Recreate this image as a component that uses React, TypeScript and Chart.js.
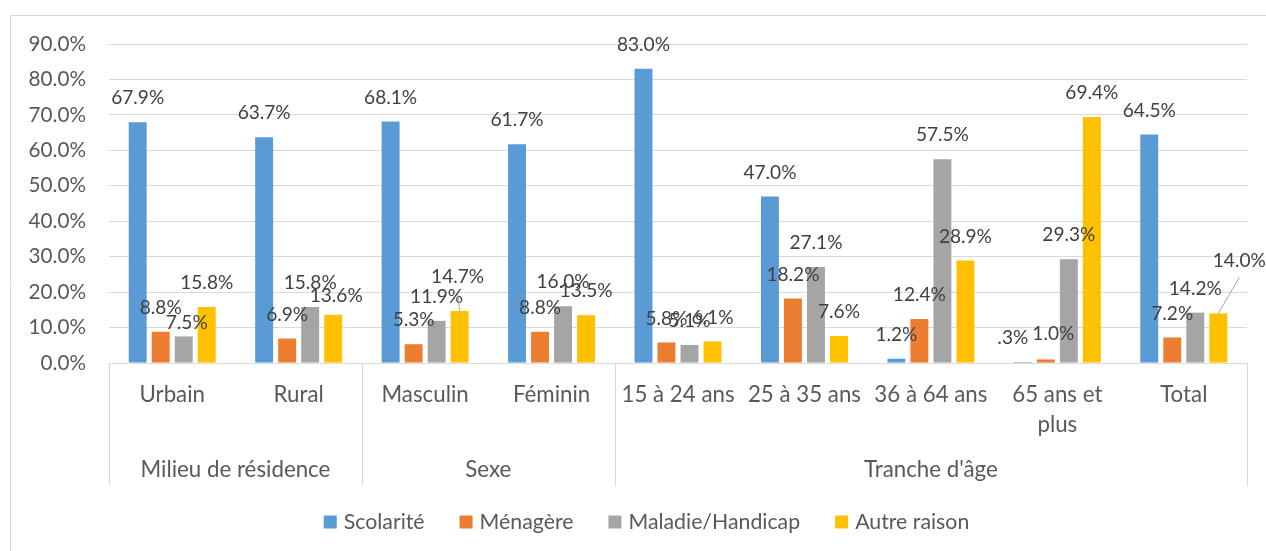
import React, { useEffect, useRef } from "react";
import { Chart, registerables } from "chart.js";

Chart.register(...registerables);

const categories = ["Urbain", "Rural", "Masculin", "Féminin", "15 à 24 ans", "25 à 35 ans", "36 à 64 ans", "65 ans et plus", "Total"];
const groupNames = ["Milieu de résidence", "Sexe", "Tranche d'âge"];
const groupSpans = [2, 2, 5];
const seriesNames = ["Scolarité", "Ménagère", "Maladie/Handicap", "Autre raison"];
const scolarite = [67.9, 63.7, 68.1, 61.7, 83.0, 47.0, 1.2, 0.3, 64.5];
const menagere = [8.8, 6.9, 5.3, 8.8, 5.8, 18.2, 12.4, 1.0, 7.2];
const maladie = [7.5, 15.8, 11.9, 16.0, 5.1, 27.1, 57.5, 29.3, 14.2];
const autre = [15.8, 13.6, 14.7, 13.5, 6.1, 7.6, 28.9, 69.4, 14.0];
const yMax = 90;
const yStep = 10;
const seriesColors = ["#5B9BD5", "#ED7D31", "#A5A5A5", "#FFC000"];

// manual label nudges (series, index, dx, dy, leader line)
const labelMoves: [number, number, number, number, boolean][] = [
  [2, 0, 3, 10, false],
  [3, 1, 3, 5, false],
  [3, 2, -2, -10, true],
  [0, 7, -10, 0, false],
  [1, 7, 7.5, -2, false],
  [3, 8, 21, -29, true],
];

const FONT = "Lato";
const TICK_SIZE = 20.7;
const CAT_SIZE = 22.3;
const LABEL_SIZE = 19.1;
const LEGEND_SIZE = 21.3;
const AXIS_TEXT = "#595959";
const LABEL_TEXT = "#404040";
const LINE = "#d9d9d9";

const fmt = (v: number) => {
  let s = v.toFixed(1);
  if (v < 1) s = s.replace(/^0/, "");
  return s + "%";
};

function wrap(ctx: CanvasRenderingContext2D, text: string, maxW: number): string[] {
  const words = text.split(" ");
  const lines: string[] = [];
  let cur = "";
  for (const w of words) {
    const t = cur ? cur + " " + w : w;
    if (ctx.measureText(t).width > maxW && cur) {
      lines.push(cur);
      cur = w;
    } else cur = t;
  }
  if (cur) lines.push(cur);
  return lines;
}

const overlay = {
  id: "overlay",
  afterDraw(chart: any) {
    const ctx: CanvasRenderingContext2D = chart.ctx;
    const ca = chart.chartArea;
    const xs = chart.scales.x;
    ctx.save();

    // chart border
    ctx.strokeStyle = LINE;
    ctx.lineWidth = 1;
    ctx.beginPath();
    ctx.moveTo(10.5, chart.height);
    ctx.lineTo(10.5, 15.5);
    ctx.lineTo(chart.width, 15.5);
    ctx.stroke();

    // multi-level axis separators
    const n = categories.length;
    const catW = (ca.right - ca.left) / n;
    const bounds = [0];
    let acc = 0;
    groupSpans.forEach((s) => {
      acc += s;
      bounds.push(acc);
    });
    ctx.beginPath();
    bounds.forEach((b) => {
      const x = Math.round(ca.left + b * catW) + 0.5;
      ctx.moveTo(x, ca.bottom);
      ctx.lineTo(x, ca.bottom + 123);
    });
    ctx.stroke();

    // category labels
    ctx.fillStyle = AXIS_TEXT;
    ctx.font = `${CAT_SIZE}px ${FONT}`;
    ctx.textAlign = "center";
    ctx.textBaseline = "middle";
    categories.forEach((c, i) => {
      const x = xs.getPixelForValue(i);
      wrap(ctx, c, catW - 4).forEach((l, k) => ctx.fillText(l, x, ca.bottom + 32 + k * 30));
    });
    groupNames.forEach((g, k) => {
      const x = ca.left + ((bounds[k] + bounds[k + 1]) / 2) * catW;
      ctx.fillText(g, x, ca.bottom + 107);
    });

    // data labels
    ctx.font = `${LABEL_SIZE}px ${FONT}`;
    chart.data.datasets.forEach((ds: any, si: number) => {
      const meta = chart.getDatasetMeta(si);
      meta.data.forEach((bar: any, i: number) => {
        const mv = labelMoves.find((m) => m[0] === si && m[1] === i);
        const dx = mv ? mv[2] : 0;
        const dy = mv ? mv[3] : 0;
        const lx = bar.x + dx;
        const ly = bar.y - 24 + dy;
        if (mv && mv[4]) {
          ctx.strokeStyle = "#a6a6a6";
          ctx.beginPath();
          ctx.moveTo(lx, ly + 17);
          ctx.lineTo(bar.x, bar.y);
          ctx.stroke();
        }
        ctx.fillStyle = LABEL_TEXT;
        ctx.fillText(fmt(ds.data[i]), lx, ly);
      });
    });

    // legend
    ctx.font = `${LEGEND_SIZE}px ${FONT}`;
    const box = 13;
    const gapBT = 7;
    const gapItems = 35;
    const widths = seriesNames.map((s) => box + gapBT + ctx.measureText(s).width);
    const total = widths.reduce((a, b) => a + b, 0) + gapItems * (widths.length - 1);
    let x = 646.5 - total / 2;
    const y = 522;
    ctx.textAlign = "left";
    seriesNames.forEach((s, i) => {
      ctx.fillStyle = seriesColors[i];
      ctx.fillRect(x, y - box / 2, box, box);
      ctx.fillStyle = AXIS_TEXT;
      ctx.fillText(s, x + box + gapBT, y);
      x += widths[i] + gapItems;
    });
    ctx.restore();
  },
};

export default function App() {
  const ref = useRef<HTMLCanvasElement>(null);
  useEffect(() => {
    document.body.style.margin = "0";
    const seriesData = [scolarite, menagere, maladie, autre];
    const chart = new Chart(ref.current!, {
      type: "bar",
      data: {
        labels: categories,
        datasets: seriesNames.map((name, i) => ({
          label: name,
          data: seriesData[i],
          backgroundColor: seriesColors[i],
          borderWidth: 0,
          categoryPercentage: 0.728,
          barPercentage: 0.78,
        })),
      },
      options: {
        animation: false,
        responsive: false,
        devicePixelRatio: 1,
        layout: { padding: { left: 10, right: 19, top: 44, bottom: 0 } },
        plugins: { legend: { display: false }, tooltip: { enabled: false } },
        scales: {
          x: {
            grid: { display: false },
            border: { display: true, color: LINE },
            ticks: { display: false },
            afterFit: (s: any) => {
              s.height = 188;
            },
          },
          y: {
            min: 0,
            max: yMax,
            ticks: {
              stepSize: yStep,
              padding: 23,
              color: AXIS_TEXT,
              font: { family: FONT, size: TICK_SIZE },
              callback: (v: any) => Number(v).toFixed(1) + "%",
            },
            grid: { color: LINE, drawTicks: false },
            border: { display: false },
            afterFit: (s: any) => {
              s.width = 99;
            },
          },
        },
      },
      plugins: [overlay],
    });
    return () => chart.destroy();
  }, []);
  return (
    <div style={{ width: 1266, height: 551 }}>
      <canvas ref={ref} width={1266} height={551} />
    </div>
  );
}
